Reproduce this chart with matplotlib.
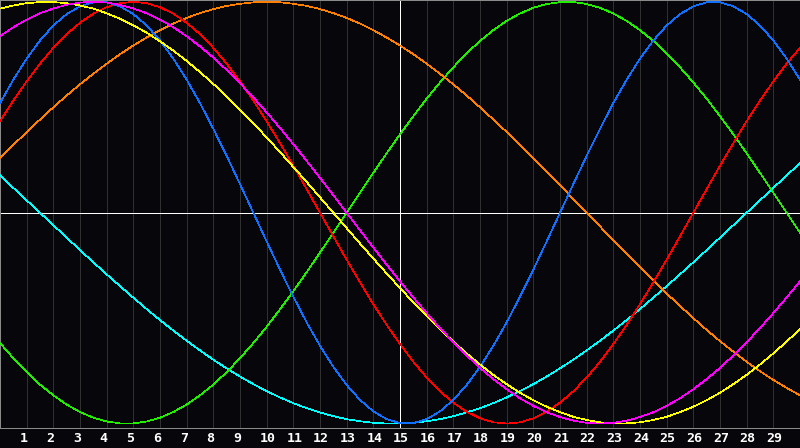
import matplotlib
matplotlib.use("Agg")
import matplotlib.pyplot as plt
import matplotlib.transforms as mtransforms
import numpy as np

# half-day steps from day 0 to day 30, values in percent
days = np.arange(0, 30.5, 0.5)
day_labels = list(range(1, 30))

physical = [52.0, 63.1, 73.1, 81.7, 88.8, 94.2, 97.9, 99.8, 99.8, 97.9,
            94.2, 88.8, 81.7, 73.1, 63.1, 52.0, 39.8, 27.0, 13.6, 0.0,
            -13.6, -27.0, -39.8, -52.0, -63.1, -73.1, -81.7, -88.8, -94.2, -97.9,
            -99.8, -99.8, -97.9, -94.2, -88.8, -81.7, -73.1, -63.1, -52.0, -39.8,
            -27.0, -13.6, 0.0, 13.6, 27.0, 39.8, 52.0, 63.1, 73.1, 81.7,
            88.8, 94.2, 97.9, 99.8, 99.8, 97.9, 94.2, 88.8, 81.7, 73.1, 63.1]
emotional = [43.4, 53.2, 62.3, 70.7, 78.2, 84.7, 90.1, 94.4, 97.5, 99.4,
             100.0, 99.4, 97.5, 94.4, 90.1, 84.7, 78.2, 70.7, 62.3, 53.2,
             43.4, 33.0, 22.3, 11.2, 0.0, -11.2, -22.3, -33.0, -43.4, -53.2,
             -62.3, -70.7, -78.2, -84.7, -90.1, -94.4, -97.5, -99.4, -100.0, -99.4,
             -97.5, -94.4, -90.1, -84.7, -78.2, -70.7, -62.3, -53.2, -43.4, -33.0,
             -22.3, -11.2, 0.0, 11.2, 22.3, 33.0, 43.4, 53.2, 62.3, 70.7, 78.2]
intellectual = [-61.8, -69.0, -75.6, -81.5, -86.6, -91.0, -94.5, -97.2, -99.0, -99.9,
                -99.9, -99.0, -97.2, -94.5, -91.0, -86.6, -81.5, -75.6, -69.0, -61.8,
                -54.1, -45.8, -37.2, -28.2, -18.9, -9.5, 0.0, 9.5, 18.9, 28.2,
                37.2, 45.8, 54.1, 61.8, 69.0, 75.6, 81.5, 86.6, 91.0, 94.5,
                97.2, 99.0, 99.9, 99.9, 99.0, 97.2, 94.5, 91.0, 86.6, 81.5,
                75.6, 69.0, 61.8, 54.1, 45.8, 37.2, 28.2, 18.9, 9.5, 0.0, -9.5]
intuitive = [83.7, 88.0, 91.6, 94.6, 96.9, 98.6, 99.7, 100.0, 99.7, 98.6,
             96.9, 94.6, 91.6, 88.0, 83.7, 78.9, 73.6, 67.7, 61.4, 54.7,
             47.6, 40.2, 32.5, 24.6, 16.5, 8.3, 0.0, -8.3, -16.5, -24.6,
             -32.5, -40.2, -47.6, -54.7, -61.4, -67.7, -73.6, -78.9, -83.7, -88.0,
             -91.6, -94.6, -96.9, -98.6, -99.7, -100.0, -99.7, -98.6, -96.9, -94.6,
             -91.6, -88.0, -83.7, -78.9, -73.6, -67.7, -61.4, -54.7, -47.6, -40.2, -32.5]
aesthetic = [96.8, 98.3, 99.4, 99.9, 99.9, 99.4, 98.3, 96.8, 94.6, 92.0,
             88.9, 85.4, 81.3, 76.9, 72.0, 66.7, 61.1, 55.2, 48.9, 42.5,
             35.7, 28.8, 21.7, 14.6, 7.3, 0.0, -7.3, -14.6, -21.7, -28.8,
             -35.7, -42.5, -48.9, -55.2, -61.1, -66.7, -72.0, -76.9, -81.3, -85.4,
             -88.9, -92.0, -94.6, -96.8, -98.3, -99.4, -99.9, -99.9, -99.4, -98.3,
             -96.8, -94.6, -92.0, -88.9, -85.4, -81.3, -76.9, -72.0, -66.7, -61.1, -55.2]
awareness = [25.9, 32.1, 38.3, 44.2, 50.0, 55.6, 60.9, 65.9, 70.7, 75.2,
             79.3, 83.1, 86.6, 89.7, 92.4, 94.7, 96.6, 98.1, 99.1, 99.8,
             100.0, 99.8, 99.1, 98.1, 96.6, 94.7, 92.4, 89.7, 86.6, 83.1,
             79.3, 75.2, 70.7, 65.9, 60.9, 55.6, 50.0, 44.2, 38.3, 32.1,
             25.9, 19.5, 13.1, 6.5, 0.0, -6.5, -13.1, -19.5, -25.9, -32.1,
             -38.3, -44.2, -50.0, -55.6, -60.9, -65.9, -70.7, -75.2, -79.3, -83.1, -86.6]
spiritual = [17.7, 11.8, 5.9, 0.0, -5.9, -11.8, -17.7, -23.5, -29.2, -34.8,
             -40.3, -45.7, -50.9, -55.9, -60.7, -65.3, -69.7, -73.8, -77.7, -81.3,
             -84.6, -87.6, -90.3, -92.7, -94.7, -96.5, -97.9, -98.9, -99.6, -100.0,
             -100.0, -99.6, -98.9, -97.9, -96.5, -94.7, -92.7, -90.3, -87.6, -84.6,
             -81.3, -77.7, -73.8, -69.7, -65.3, -60.7, -55.9, -50.9, -45.7, -40.3,
             -34.8, -29.2, -23.5, -17.7, -11.8, -5.9, 0.0, 5.9, 11.8, 17.7, 23.5]

series = [
    (spiritual, "#00ffff"),
    (intellectual, "#22ee00"),
    (awareness, "#ff8000"),
    (emotional, "#ff0000"),
    (physical, "#1070ff"),
    (aesthetic, "#ffff00"),
    (intuitive, "#ff00ff"),
]

BG = "#07070b"
px = 72.0 / 100  # one pixel in points at dpi 100

fig = plt.figure(figsize=(8, 4.48), dpi=100, facecolor=BG)
ax = fig.add_axes([0, 20 / 448, 1, 428 / 448])
ax.set_facecolor(BG)
ax.set_xlim(0, 30)
ax.set_ylim(-102.1, 100.9)

# day grid
for d in day_labels:
    ax.axvline(d, color="#303030", lw=px, antialiased=False, zorder=1)

ax.axhline(0, color="white", lw=px, antialiased=False, zorder=2)
ax.axvline(15, color="white", lw=px, antialiased=False, zorder=2)

for vals, col in series:
    ax.plot(days, vals, color=col, lw=0.5, antialiased=False, zorder=3)

ax.set_xticks([])
ax.set_yticks([])
for side in ["left", "top", "bottom"]:
    ax.spines[side].set_color("#8a8a8a")
    ax.spines[side].set_linewidth(px)
ax.spines["right"].set_visible(False)

# labels under the grid, left edge a bit before each line
trans = mtransforms.blended_transform_factory(ax.transData, ax.transAxes)
trans = trans + mtransforms.ScaledTranslation(-7 / 100, 0, fig.dpi_scale_trans)
for d in day_labels:
    ax.text(d, -0.0257, str(d), transform=trans, ha="left", va="center",
            color="white", fontsize=9.5, fontweight="bold",
            family="DejaVu Sans Mono", clip_on=False)

fig.savefig("out.png", dpi=100, facecolor=BG)
